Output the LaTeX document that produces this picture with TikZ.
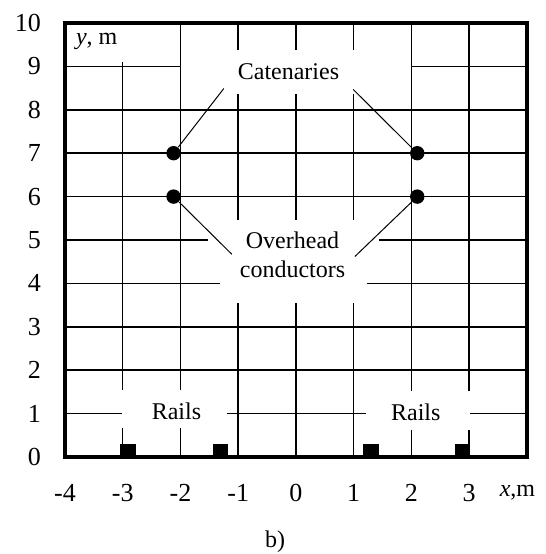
\documentclass[tikz,border=0pt]{standalone}
\usepackage{fontspec}
\setmainfont{Liberation Serif}
\begin{document}
\begin{tikzpicture}[x=28.875pt,y=21.7pt,
  gridline/.style={line width=0.75pt},
  framebox/.style={line width=1.6pt},
  leader/.style={line width=0.5pt},
  lbl/.style={font=\fontsize{12}{14.5}\selectfont, inner sep=0pt, align=center},
  num/.style={font=\fontsize{13}{14}\selectfont, inner sep=0pt},
  wire/.style={circle, fill=black, minimum size=7.2pt, inner sep=0pt},
  railbox/.style={fill=black}]
\useasboundingbox (-5.1255,-2.235) rectangle (4.329,10.53);

% vertical grid lines
\draw[gridline] (-3,0) -- (-3,0.66) (-3,1.55) -- (-3,9.1);
\draw[gridline] (-2,0) -- (-2,0.66) (-2,1.55) -- (-2,10);
\foreach \x in {-1,0,1}{
  \draw[gridline] (\x,0) -- (\x,3.55) (\x,5.47) -- (\x,8.36) (\x,9.38) -- (\x,10);
}
\draw[gridline] (2,0) -- (2,0.63) (2,1.52) -- (2,10);
\draw[gridline] (3,0) -- (3,0.63) (3,1.52) -- (3,10);

% horizontal grid lines
\draw[gridline] (-4,1) -- (-3.02,1) (-1.2,1) -- (1.21,1) (3.02,1) -- (4,1);
\draw[gridline] (-4,2) -- (4,2);
\draw[gridline] (-4,3) -- (4,3);
\draw[gridline] (-4,4) -- (-1.31,4) (1.23,4) -- (4,4);
\draw[gridline] (-4,5) -- (-1.52,5) (1.44,5) -- (4,5);
\draw[gridline] (-4,6) -- (4,6);
\draw[gridline] (-4,7) -- (4,7);
\draw[gridline] (-4,8) -- (4,8);
\draw[gridline] (-4,9) -- (-2,9) (2,9) -- (4,9);

% rails
\fill[railbox] (-3.04,0) rectangle (-2.77,0.3);
\fill[railbox] (-1.44,0) rectangle (-1.17,0.3);
\fill[railbox] (1.16,0) rectangle (1.43,0.3);
\fill[railbox] (2.76,0) rectangle (3.02,0.3);

% frame
\draw[framebox] (-4,0) rectangle (4,10);

% wires
\node[wire] (cl) at (-2.12,7) {};
\node[wire] (cr) at (2.1,7) {};
\node[wire] (ol) at (-2.12,6) {};
\node[wire] (or) at (2.1,6) {};

% labels
\node[lbl] (cat) at (-0.13,8.87) {Catenaries};
\node[lbl] (ovh) at (-0.06,4.67) {Overhead\\conductors};
\node[lbl] (rl) at (-2.07,1.06) {Rails};
\node[lbl] (rr) at (2.075,1.03) {Rails};
\node[lbl] (ylab) at (-3.45,9.57) {\textit{y}, m};
\node[lbl] (xlab) at (3.835,-0.83) {\textit{x},m};
\node[lbl] (cap) at (-0.36,-1.96) {b)};

% leader lines
\coordinate (cla) at (-1.25,8.49);
\coordinate (cra) at (0.99,8.47);
\coordinate (ola) at (-1.11,4.67);
\coordinate (ora) at (1.02,4.62);
\draw[leader] (cl) -- (cla);
\draw[leader] (cr) -- (cra);
\draw[leader] (ol) -- (ola);
\draw[leader] (or) -- (ora);

% axis numbers
\foreach \v in {0,...,10}{
  \node[num, anchor=east] (yn\v) at (-4.41,\v) {\v};
}
\foreach \v in {-4,...,3}{
  \node[num] (xn\v) at (\v,-0.83) {\v};
}
\end{tikzpicture}
\end{document}
